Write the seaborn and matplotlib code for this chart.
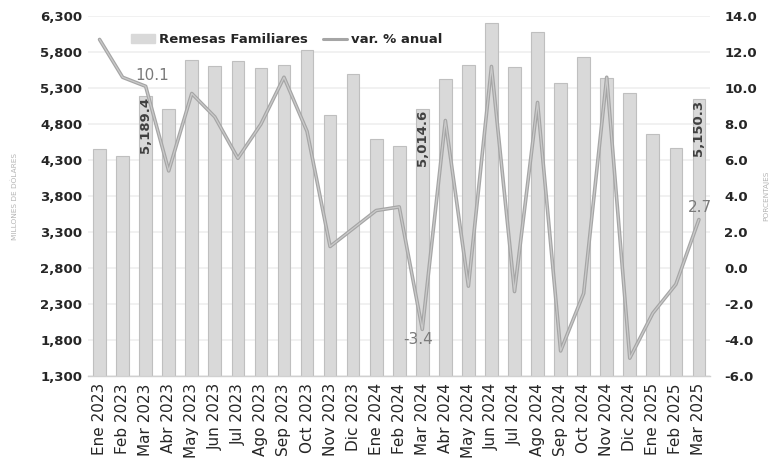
"""
Remesas familiares mensuales y variacion anual - barras + linea en doble eje.
"""

import numpy as np
import pandas as pd
import matplotlib
matplotlib.use('Agg')
import matplotlib.pyplot as plt
import matplotlib.patheffects as pe
from matplotlib.patches import Patch
from matplotlib.lines import Line2D
import seaborn as sns

# -------------------------------
# 1. Data
# -------------------------------
months = ['Ene 2023', 'Feb 2023', 'Mar 2023', 'Abr 2023', 'May 2023', 'Jun 2023',
          'Jul 2023', 'Ago 2023', 'Sep 2023', 'Oct 2023', 'Nov 2023', 'Dic 2023',
          'Ene 2024', 'Feb 2024', 'Mar 2024', 'Abr 2024', 'May 2024', 'Jun 2024',
          'Jul 2024', 'Ago 2024', 'Sep 2024', 'Oct 2024', 'Nov 2024', 'Dic 2024',
          'Ene 2025', 'Feb 2025', 'Mar 2025']

remesas = [4450, 4355, 5189.4, 5005, 5685, 5600, 5672, 5576, 5617, 5828, 4922, 5500,
           4590, 4497, 5014.6, 5425, 5620, 6207, 5597, 6082, 5365, 5726, 5435, 5226,
           4661, 4463, 5150.3]

var_anual = [12.7, 10.6, 10.1, 5.4, 9.7, 8.4, 6.1, 8.0, 10.6, 7.6, 1.2, 2.2,
             3.2, 3.4, -3.4, 8.2, -1.0, 11.2, -1.3, 9.2, -4.6, -1.4, 10.6, -5.0,
             -2.5, -0.9, 2.7]

# labelled points: (index, bar label, line label)
bar_labels = {2: '5,189.4', 14: '5,014.6', 26: '5,150.3'}
line_labels = {2: ('10.1', 5, 8), 14: ('-3.4', -3, -7), 26: ('2.7', 1, 9)}

BAR_COLOR = '#d9d9d9'
BAR_EDGE = '#bfbfbf'
LINE_COLOR = '#a5a5a5'
TEXT_DARK = '#262626'
GRID_COLOR = '#efefef'

df = pd.DataFrame({'mes': months, 'remesas': remesas, 'var': var_anual})
df['pos'] = np.arange(len(df))

# -------------------------------
# 2. Figure
# -------------------------------
sns.set_style('white')
plt.rcParams['font.family'] = ['DejaVu Sans']

fig = plt.figure(figsize=(7.79, 4.72), dpi=100)
ax = fig.add_axes([0.113, 0.203, 0.799, 0.763])

sns.barplot(data=df, x='mes', y='remesas', color=BAR_COLOR, width=0.55,
            edgecolor=BAR_EDGE, linewidth=0.8, saturation=1, ax=ax, zorder=2)

ax.set_ylim(1300, 6300)
ax.set_yticks(np.arange(1300, 6301, 500))
ax.set_yticklabels([f'{v:,}' for v in range(1300, 6301, 500)],
                   fontsize=9.5, fontweight='bold', color=TEXT_DARK)
ax.set_xlim(-0.5, len(months) - 0.5)
ax.grid(axis='y', color=GRID_COLOR, linewidth=1.2, zorder=0)
ax.set_axisbelow(True)
ax.set_xlabel('')
ax.set_ylabel('MILLONES DE DÓLARES', fontsize=5.3, color='#b5b5b5')
ax.yaxis.set_label_coords(-0.112, 0.5)

ax.set_xticks(df['pos'])
ax.set_xticklabels(months, rotation=90, fontsize=11, color=TEXT_DARK)
ax.set_xticks(np.arange(-0.5, len(months), 1), minor=True)
ax.tick_params(axis='x', which='major', length=0, pad=5)
ax.tick_params(axis='x', which='minor', length=5, color='#d0d0d0', width=0.8)
ax.tick_params(axis='y', length=0, pad=4)

for s in ['top', 'right', 'left']:
    ax.spines[s].set_visible(False)
ax.spines['bottom'].set_color('#d0d0d0')
ax.spines['bottom'].set_linewidth(1.0)

# bar value labels (rotated, inside end)
for i, txt in bar_labels.items():
    ax.text(i, remesas[i] - 10, txt, rotation=90, ha='center', va='top',
            fontsize=9.5, fontweight='bold', color='#404040', zorder=5)

# -------------------------------
# 3. Line on secondary axis
# -------------------------------
ax2 = ax.twinx()
sns.lineplot(data=df, x='pos', y='var', color='#cacaca', linewidth=0.9, ax=ax2,
             zorder=4, path_effects=[pe.Stroke(linewidth=2.6, foreground=LINE_COLOR),
                                     pe.Normal()])
ax2.set_ylim(-6, 14)
ax2.set_yticks(np.arange(-6, 14.1, 2))
ax2.set_yticklabels([f'{v:.1f}' for v in np.arange(-6, 14.1, 2)],
                    fontsize=9.5, fontweight='bold', color=TEXT_DARK)
ax2.tick_params(axis='y', length=0, pad=10)
ax2.set_ylabel('PORCENTAJES', fontsize=5.3, color='#b5b5b5')
ax2.yaxis.set_label_coords(1.085, 0.5)
ax2.set_xlabel('')
ax2.set_xlim(-0.5, len(months) - 0.5)
for s in ax2.spines.values():
    s.set_visible(False)

for i, (txt, dx, dy) in line_labels.items():
    ax2.annotate(txt, (i, var_anual[i]), xytext=(dx, dy), textcoords='offset points',
                 ha='center', va='center', fontsize=11, color='#7a7a7a', zorder=6)

# -------------------------------
# 4. Legend
# -------------------------------
handles = [Patch(facecolor=BAR_COLOR, edgecolor=BAR_COLOR),
           Line2D([0], [0], color=LINE_COLOR, linewidth=2.2)]
ax2.legend(handles, ['Remesas Familiares', 'var. % anual'], loc='upper left',
           bbox_to_anchor=(0.05, 0.985), ncol=2, frameon=False,
           prop={'size': 9.5, 'weight': 'bold'}, handlelength=1.8,
           handletextpad=0.3, columnspacing=1.2)

fig.savefig('out.png', dpi=100)
